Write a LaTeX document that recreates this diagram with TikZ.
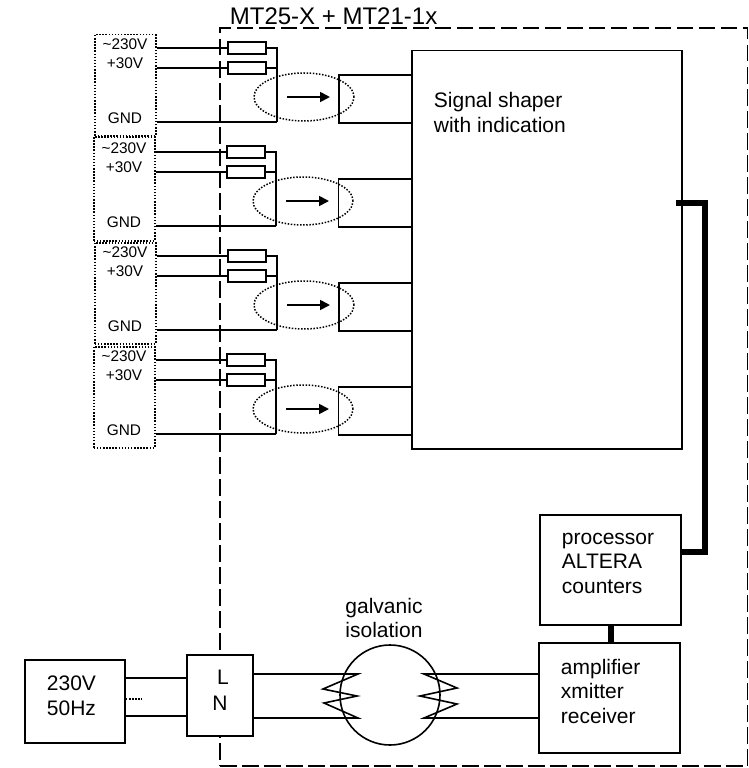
\documentclass[tikz,border=0pt]{standalone}
\usepackage{fontspec}
\setmainfont{Liberation Sans}
\usetikzlibrary{arrows.meta,shapes.geometric}
\begin{document}
\begin{tikzpicture}[x=1pt,y=-1pt,line width=1.8pt,
  every node/.style={font=\fontsize{21}{24.5}\selectfont,inner sep=0pt,align=left},
  pinlabel/.style={font=\fontsize{15.4}{18}\selectfont},
  pinbox/.style={draw,line width=1.5pt,dash pattern=on 1.5pt off 1.6pt,minimum width=61,anchor=north west},
  resbox/.style={draw,minimum width=38,minimum height=12},
  shapebox/.style={draw,minimum width=73,minimum height=48},
  iso/.style={draw,ellipse,line width=1.5pt,dash pattern=on 1.5pt off 1.6pt,minimum width=100,minimum height=48},
  block/.style={draw,fill=white},
  sense/.style={-{Triangle[length=10pt,width=10pt]}}]
\useasboundingbox (0,0) rectangle (749,768);
% enclosure
\node[draw,dash pattern=on 16.5pt off 5.5pt,minimum width=527.5,minimum height=738] (frame) at (483.75,397) {};
\node[font=\fontsize{24}{28}\selectfont,anchor=base west] (title) at (229,25) {MT25-X + MT21-1x};
% shaper
\node[draw,line width=1.6pt,minimum width=270,minimum height=398.5] (sig) at (547,249.75) {};
\node[anchor=west] (siglabel) at (433,112.5) {Signal shaper\\with indication};
% channel 1
\node[pinbox,minimum height=101] (pin1) at (94,34) {};
\node[pinlabel] (hi1) at (125,44) {\textasciitilde230V};
\node[pinlabel] (lo1) at (125,63) {+30V};
\node[pinlabel] (gnd1) at (125,118) {GND};
\node[resbox] (ra1) at (247,48) {};
\node[resbox] (rb1) at (247,68) {};
\coordinate (bus1) at (277,122);
\node[iso] (iso1) at (304,97) {};
\node[shapebox] (sh1) at (375.5,99) {};
\draw (pin1.east |- ra1) -- (ra1);
\draw (pin1.east |- rb1) -- (rb1);
\draw (pin1.east |- bus1) -- (bus1);
\draw (ra1.east) -| (bus1);
\draw (rb1.east) -- (rb1.east -| bus1);
\draw[sense] ([xshift=-17pt]iso1.center) -- ([xshift=26pt]iso1.center);
% channel 2
\node[pinbox,minimum height=104] (pin2) at (93,136) {};
\node[pinlabel] (hi2) at (124,148) {\textasciitilde230V};
\node[pinlabel] (lo2) at (124,167) {+30V};
\node[pinlabel] (gnd2) at (124,222) {GND};
\node[resbox] (ra2) at (246,152) {};
\node[resbox] (rb2) at (246,172) {};
\coordinate (bus2) at (276,226);
\node[iso] (iso2) at (303,201) {};
\node[shapebox] (sh2) at (375,203) {};
\draw (pin2.east |- ra2) -- (ra2);
\draw (pin2.east |- rb2) -- (rb2);
\draw (pin2.east |- bus2) -- (bus2);
\draw (ra2.east) -| (bus2);
\draw (rb2.east) -- (rb2.east -| bus2);
\draw[sense] ([xshift=-17pt]iso2.center) -- ([xshift=26pt]iso2.center);
% channel 3
\node[pinbox,minimum height=101] (pin3) at (94,242) {};
\node[pinlabel] (hi3) at (125,252) {\textasciitilde230V};
\node[pinlabel] (lo3) at (125,271) {+30V};
\node[pinlabel] (gnd3) at (125,326) {GND};
\node[resbox] (ra3) at (247,256) {};
\node[resbox] (rb3) at (247,276) {};
\coordinate (bus3) at (277,330);
\node[iso] (iso3) at (304,305) {};
\node[shapebox] (sh3) at (375.5,307) {};
\draw (pin3.east |- ra3) -- (ra3);
\draw (pin3.east |- rb3) -- (rb3);
\draw (pin3.east |- bus3) -- (bus3);
\draw (ra3.east) -| (bus3);
\draw (rb3.east) -- (rb3.east -| bus3);
\draw[sense] ([xshift=-17pt]iso3.center) -- ([xshift=26pt]iso3.center);
% channel 4
\node[pinbox,minimum height=101] (pin4) at (93,346) {};
\node[pinlabel] (hi4) at (124,356) {\textasciitilde230V};
\node[pinlabel] (lo4) at (124,375) {+30V};
\node[pinlabel] (gnd4) at (124,430) {GND};
\node[resbox] (ra4) at (246,360) {};
\node[resbox] (rb4) at (246,380) {};
\coordinate (bus4) at (276,434);
\node[iso] (iso4) at (303,409) {};
\node[shapebox] (sh4) at (375,411) {};
\draw (pin4.east |- ra4) -- (ra4);
\draw (pin4.east |- rb4) -- (rb4);
\draw (pin4.east |- bus4) -- (bus4);
\draw (ra4.east) -| (bus4);
\draw (rb4.east) -- (rb4.east -| bus4);
\draw[sense] ([xshift=-17pt]iso4.center) -- ([xshift=26pt]iso4.center);
% processor and transceiver
\node[draw,line width=1.6pt,minimum width=141,minimum height=110] (proc) at (610.5,570) {};
\node[anchor=west] (proclabel) at (561,563) {processor\\ALTERA\\counters};
\node[draw,line width=1.6pt,minimum width=141,minimum height=110] (amp) at (609.5,698) {};
\node[anchor=west] (amplabel) at (560,691) {amplifier\\xmitter\\receiver};
\draw[line width=5.5pt] (proc.south -| 611,0) -- (amp.north -| 611,0);
\coordinate (busa) at (676,203);
\coordinate (busb) at (705,552);
\draw[line width=5.5pt] (busa) -| (busb) -- (busb -| proc.east);
% mains side
\node[draw,minimum width=100,minimum height=83] (mains) at (75,701.5) {};
\node[anchor=west] (mainslabel) at (46,696) {230V\\50Hz};
\node[block,minimum width=66,minimum height=81] (ln) at (220,695.5) {};
\node (lline) at (223,677) {L};
\node (nline) at (220,703) {N};
\draw (mains.east |- 0,678) -- (ln.west |- 0,678);
\draw (mains.east |- 0,716) -- (ln.west |- 0,716);
\coordinate (stub) at (142,699);
\draw[line width=1.2pt,dash pattern=on 1.5pt off 1.6pt] (mains.east |- stub) -- (stub);
% galvanic isolation
\node[draw,line width=1.6pt,circle,minimum size=100] (core) at (390,695) {};
\node[align=center] (corelabel) at (384,618) {galvanic\\isolation};
\coordinate (la) at (358,674);
\coordinate (lb) at (358,718);
\coordinate (rc) at (424,674);
\coordinate (rd) at (424,718);
\draw[line width=1.6pt] (ln.east |- la) -- (la) -- (323,689) -- (357,696) -- (324,703) -- (lb) -- (ln.east |- lb);
\draw[line width=1.6pt] (amp.west |- rc) -- (rc) -- (457,688) -- (420,696) -- (457,704) -- (rd) -- (amp.west |- rd);
\end{tikzpicture}
\end{document}
